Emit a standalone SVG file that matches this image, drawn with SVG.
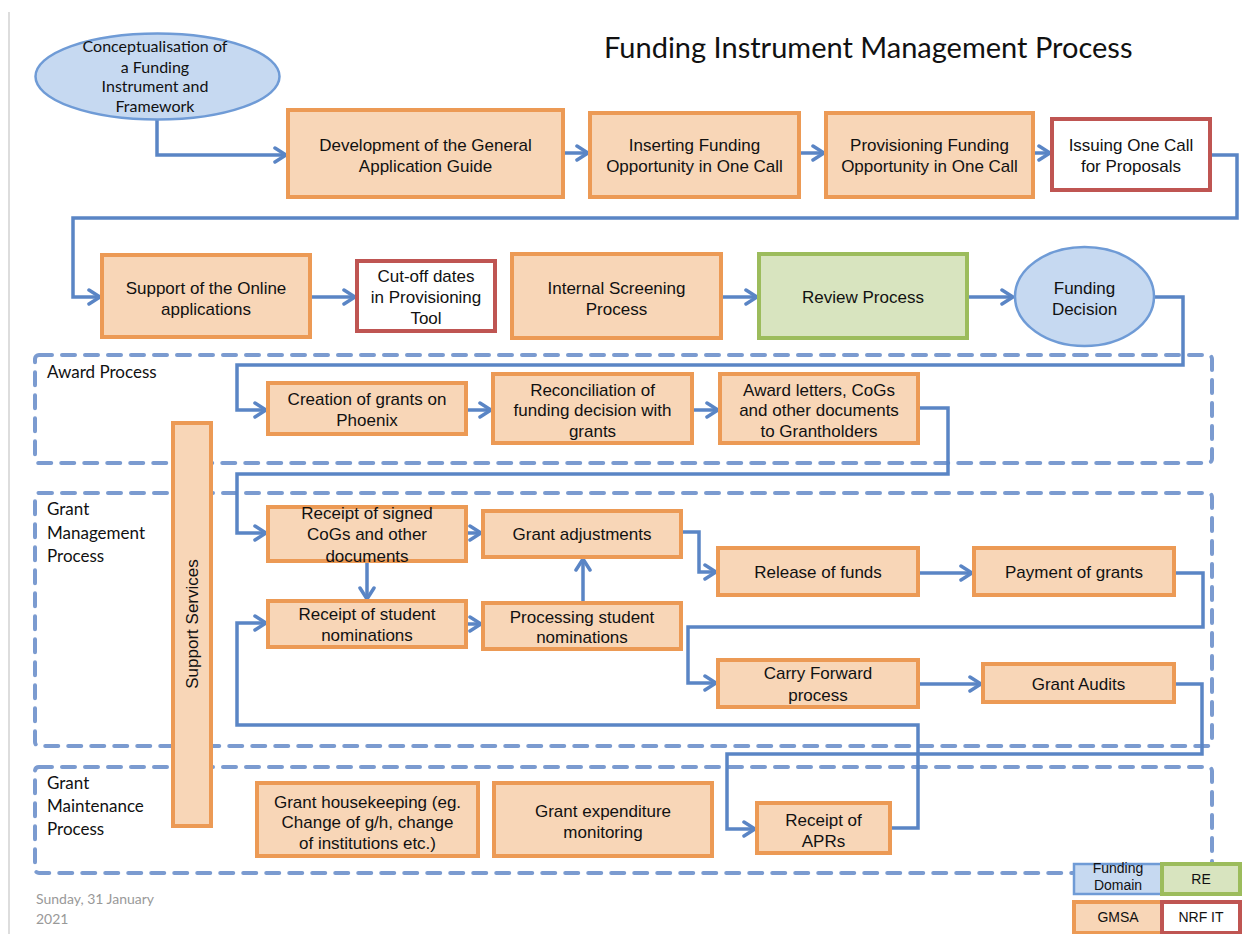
<svg xmlns="http://www.w3.org/2000/svg" width="1248" height="934" viewBox="0 0 1248 934">
<style>
.bg{fill:#ffffff}
.lane{fill:none;stroke:#7b9bd0;stroke-width:4;stroke-dasharray:13,10;stroke-linecap:round}
.or{fill:#f8d6b7;stroke:#ec9a55;stroke-width:4}
.rd{fill:#ffffff;stroke:#bf5552;stroke-width:4}
.gr{fill:#d8e4bf;stroke:#9cbc5c;stroke-width:4}
.bl{fill:#c6d9f1;stroke:#6f9bd6;stroke-width:2.5}
.t{font-family:"Liberation Sans",Arial,sans-serif;font-size:17px;fill:#111;text-anchor:middle}
.tl{font-family:Lato,"Open Sans",sans-serif;font-size:16px;fill:#111;text-anchor:middle}
.lab{font-family:Lato,"Open Sans",sans-serif;font-size:17px;fill:#111}
.lg{font-family:"Liberation Sans",Arial,sans-serif;font-size:14px;fill:#111;text-anchor:middle}
.c{fill:none;stroke:#5a85c5;stroke-width:3.5;stroke-linejoin:miter}
</style>
<defs>
<marker id="ah" viewBox="0 0 16 18" markerWidth="16" markerHeight="18" refX="14" refY="9" orient="auto" markerUnits="userSpaceOnUse">
<path d="M3,2 L14,9 L3,16" fill="none" stroke="#5a85c5" stroke-width="3.5" stroke-linecap="round" stroke-linejoin="miter"/>
</marker>
</defs>
<rect class="bg" x="0" y="0" width="1248" height="934"/>
<line x1="9" y1="12" x2="9" y2="934" stroke="#dddddd" stroke-width="2"/>

<g id="title">
<text x="604" y="58" font-family="Lato,'Open Sans',sans-serif" font-size="29" fill="#111">Funding Instrument Management Process</text>
</g>

<g id="lanes">
<rect class="lane" x="35" y="355" width="1177" height="108" rx="4"/>
<rect class="lane" x="35" y="493" width="1177" height="253" rx="4"/>
<rect class="lane" x="35" y="767" width="1177" height="106" rx="4"/>
<text class="lab" x="47" y="378">Award Process</text>
<text class="lab" x="47" y="515">Grant</text>
<text class="lab" x="47" y="539">Management</text>
<text class="lab" x="47" y="562">Process</text>
<text class="lab" x="47" y="789">Grant</text>
<text class="lab" x="47" y="812">Maintenance</text>
<text class="lab" x="47" y="835">Process</text>
</g>

<g id="connectors">
<path class="c" d="M157,120 V155 H286" marker-end="url(#ah)"/>
<path class="c" d="M563,153 H588" marker-end="url(#ah)"/>
<path class="c" d="M799,153 H824" marker-end="url(#ah)"/>
<path class="c" d="M1033,153 H1050" marker-end="url(#ah)"/>
<path class="c" d="M1210,155 H1237 V218 H73 V297 H100" marker-end="url(#ah)"/>
<path class="c" d="M310,297 H355" marker-end="url(#ah)"/>
<path class="c" d="M721,297 H757" marker-end="url(#ah)"/>
<path class="c" d="M967,297 H1013" marker-end="url(#ah)"/>
<path class="c" d="M1154,297 H1183 V365 H237 V410 H266" marker-end="url(#ah)"/>
<path class="c" d="M466,410 H491" marker-end="url(#ah)"/>
<path class="c" d="M692,410 H718" marker-end="url(#ah)"/>
<path class="c" d="M918,408 H948 V474 H237 V533 H266" marker-end="url(#ah)"/>
<path class="c" d="M466,533 H481" marker-end="url(#ah)"/>
<path class="c" d="M367,561 V599" marker-end="url(#ah)"/>
<path class="c" d="M466,624 H481" marker-end="url(#ah)"/>
<path class="c" d="M583,603 V559" marker-end="url(#ah)"/>
<path class="c" d="M681,532 H699 V572 H716" marker-end="url(#ah)"/>
<path class="c" d="M918,573 H972" marker-end="url(#ah)"/>
<path class="c" d="M1174,573 H1203 V627 H688 V683 H716" marker-end="url(#ah)"/>
<path class="c" d="M918,684 H981" marker-end="url(#ah)"/>
<path class="c" d="M1174,684 H1202 V754 H727 V829 H755" marker-end="url(#ah)"/>
<path class="c" d="M890,828 H918 V725 H237 V623 H266" marker-end="url(#ah)"/>
</g>

<g id="n-concept">
<ellipse class="bl" cx="157.5" cy="76.5" rx="122" ry="43"/>
<text class="tl" x="155"><tspan x="155" y="52">Conceptualisation of</tspan><tspan x="155" y="73">a Funding</tspan><tspan x="155" y="92">Instrument and</tspan><tspan x="155" y="112">Framework</tspan></text>
</g>
<g id="n-dev">
<rect class="or" x="288" y="110" width="275" height="87"/>
<text class="t"><tspan x="425.5" y="151">Development of the General</tspan><tspan x="425.5" y="172">Application Guide</tspan></text>
</g>
<g id="n-insert">
<rect class="or" x="590" y="113" width="209" height="84"/>
<text class="t"><tspan x="694.5" y="151">Inserting Funding</tspan><tspan x="694.5" y="172">Opportunity in One Call</tspan></text>
</g>
<g id="n-prov">
<rect class="or" x="826" y="113" width="207" height="84"/>
<text class="t"><tspan x="929.5" y="151">Provisioning Funding</tspan><tspan x="929.5" y="172">Opportunity in One Call</tspan></text>
</g>
<g id="n-issue">
<rect class="rd" x="1052" y="119" width="158" height="71"/>
<text class="t"><tspan x="1131" y="151">Issuing One Call</tspan><tspan x="1131" y="172">for Proposals</tspan></text>
</g>
<g id="n-support-online">
<rect class="or" x="102" y="255" width="208" height="82"/>
<text class="t"><tspan x="206" y="294">Support of the Online</tspan><tspan x="206" y="315">applications</tspan></text>
</g>
<g id="n-cutoff">
<rect class="rd" x="357" y="261" width="138" height="70"/>
<text class="t"><tspan x="426" y="282">Cut-off dates</tspan><tspan x="426" y="303">in Provisioning</tspan><tspan x="426" y="324">Tool</tspan></text>
</g>
<g id="n-internal">
<rect class="or" x="512" y="254" width="209" height="84"/>
<text class="t"><tspan x="616.5" y="294">Internal Screening</tspan><tspan x="616.5" y="315">Process</tspan></text>
</g>
<g id="n-review">
<rect class="gr" x="759" y="254" width="208" height="84"/>
<text class="t" x="863" y="303">Review Process</text>
</g>
<g id="n-decision">
<ellipse class="bl" cx="1084.5" cy="296.5" rx="69.5" ry="49.5"/>
<text class="t"><tspan x="1084.5" y="294">Funding</tspan><tspan x="1084.5" y="315">Decision</tspan></text>
</g>
<g id="n-creation">
<rect class="or" x="268" y="383" width="198" height="51"/>
<text class="t"><tspan x="367" y="405">Creation of grants on</tspan><tspan x="367" y="426">Phoenix</tspan></text>
</g>
<g id="n-recon">
<rect class="or" x="493" y="374" width="199" height="69"/>
<text class="t"><tspan x="592.5" y="396">Reconciliation of</tspan><tspan x="592.5" y="416">funding decision with</tspan><tspan x="592.5" y="437">grants</tspan></text>
</g>
<g id="n-award">
<rect class="or" x="720" y="374" width="198" height="69"/>
<text class="t"><tspan x="819" y="396">Award letters, CoGs</tspan><tspan x="819" y="416">and other documents</tspan><tspan x="819" y="437">to Grantholders</tspan></text>
</g>
<g id="n-support-services">
<rect class="or" x="173" y="423" width="38" height="403"/>
<text class="t" transform="translate(198,624) rotate(-90)" x="0" y="0">Support Services</text>
</g>
<g id="n-signed">
<rect class="or" x="268" y="507" width="198" height="54"/>
<text class="t"><tspan x="367" y="519">Receipt of signed</tspan><tspan x="367" y="540">CoGs and other</tspan><tspan x="367" y="562">documents</tspan></text>
</g>
<g id="n-adjust">
<rect class="or" x="483" y="511" width="198" height="46"/>
<text class="t" x="582" y="540">Grant adjustments</text>
</g>
<g id="n-student">
<rect class="or" x="268" y="601" width="198" height="46"/>
<text class="t"><tspan x="367" y="620">Receipt of student</tspan><tspan x="367" y="641">nominations</tspan></text>
</g>
<g id="n-processing">
<rect class="or" x="483" y="603" width="198" height="46"/>
<text class="t"><tspan x="582" y="623">Processing student</tspan><tspan x="582" y="643">nominations</tspan></text>
</g>
<g id="n-release">
<rect class="or" x="718" y="548" width="200" height="47"/>
<text class="t" x="818" y="578">Release of funds</text>
</g>
<g id="n-payment">
<rect class="or" x="974" y="548" width="200" height="47"/>
<text class="t" x="1074" y="578">Payment of grants</text>
</g>
<g id="n-carry">
<rect class="or" x="718" y="660" width="200" height="47"/>
<text class="t"><tspan x="818" y="679">Carry Forward</tspan><tspan x="818" y="701">process</tspan></text>
</g>
<g id="n-audits">
<rect class="or" x="983" y="664" width="191" height="38"/>
<text class="t" x="1078.5" y="690">Grant Audits</text>
</g>
<g id="n-housekeeping">
<rect class="or" x="257" y="783" width="221" height="73"/>
<text class="t"><tspan x="367.5" y="808">Grant housekeeping (eg.</tspan><tspan x="367.5" y="828">Change of g/h, change</tspan><tspan x="367.5" y="849">of institutions etc.)</tspan></text>
</g>
<g id="n-expenditure">
<rect class="or" x="494" y="783" width="218" height="73"/>
<text class="t"><tspan x="603" y="817">Grant expenditure</tspan><tspan x="603" y="838">monitoring</tspan></text>
</g>
<g id="n-aprs">
<rect class="or" x="757" y="803" width="133" height="50"/>
<text class="t"><tspan x="823.5" y="826">Receipt of</tspan><tspan x="823.5" y="847">APRs</tspan></text>
</g>

<g id="legend">
<rect class="bl" x="1074" y="864" width="88" height="30" stroke-width="3"/>
<text class="lg"><tspan x="1118" y="873">Funding</tspan><tspan x="1118" y="890">Domain</tspan></text>
<rect class="gr" x="1162" y="864" width="78" height="30"/>
<text class="lg" x="1201" y="884">RE</text>
<rect class="or" x="1074" y="902" width="88" height="31"/>
<text class="lg" x="1118" y="922">GMSA</text>
<rect class="rd" x="1162" y="902" width="78" height="31"/>
<text class="lg" x="1201" y="922">NRF IT</text>
</g>

<g id="date">
<text x="36" y="904" font-family="Lato,'Open Sans',sans-serif" font-size="14" fill="#999">Sunday, 31 January</text>
<text x="36" y="924" font-family="Lato,'Open Sans',sans-serif" font-size="14" fill="#999">2021</text>
</g>
</svg>
